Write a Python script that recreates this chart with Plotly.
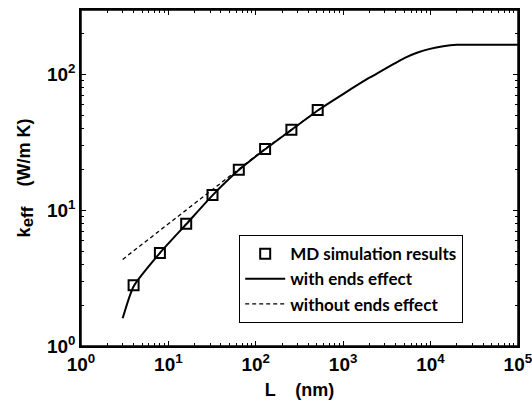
import plotly.graph_objects as go

# MD simulation results
md_L = [4, 8, 16, 32, 64, 128, 256, 512]
md_k = [2.8, 4.85, 7.95, 13.0, 19.9, 28.3, 39.3, 55.0]

# model with ends effect
with_L = [3, 4, 8, 16, 32, 64, 128, 256, 512, 1000, 2000, 2630, 3800, 5090, 7000, 9840, 14000, 20000, 30000, 100000]
with_k = [1.6, 2.75, 4.85, 7.9, 12.9, 19.8, 28.2, 39.2, 54.5, 72, 95, 105, 120, 133, 145, 155, 162, 166, 166.5, 166.5]

# model without ends effect
wo_L = [3, 8, 16, 30, 64, 128, 256, 512]
wo_k = [4.35, 7.1, 10.0, 13.8, 20.3, 28.5, 39.3, 54.6]

x_ticks = [1, 10, 100, 1000, 10000, 100000]
x_ticktext = ["<b>10<sup>0</sup></b>", "<b>10<sup>1</sup></b>", "<b>10<sup>2</sup></b>",
              "<b>10<sup>3</sup></b>", "<b>10<sup>4</sup></b>", "<b>10<sup>5</sup></b>"]
y_ticks = [1, 10, 100]
y_ticktext = ["<b>10<sup>0</sup></b>", "<b>10<sup>1</sup></b>", "<b>10<sup>2</sup></b>"]

x_minor = [m * 10 ** d for d in range(0, 5) for m in range(2, 10)]
y_minor = [m * 10 ** d for d in range(0, 3) for m in range(2, 10) if m * 10 ** d <= 300]

fig = go.Figure()
fig.add_trace(go.Scatter(x=md_L, y=md_k, mode="markers", name="<b>MD simulation results</b>",
                         marker=dict(symbol="square-open", size=10, color="black", line=dict(width=2, color="black"))))
fig.add_trace(go.Scatter(x=with_L, y=with_k, mode="lines", name="<b>with ends effect</b>",
                         line=dict(color="black", width=2, shape="spline", smoothing=0.6)))
fig.add_trace(go.Scatter(x=wo_L, y=wo_k, mode="lines", name="<b>without ends effect</b>",
                         line=dict(color="black", width=1.3, dash="4px,3px")))

tick_font = dict(family="Liberation Sans, Arial", size=19, color="black")
title_font = dict(family="Liberation Sans, Arial", size=18, color="black")

axis_common = dict(
    type="log", showgrid=False, zeroline=False, showline=True, linecolor="black", linewidth=1.5,
    mirror="allticks", ticks="inside", ticklen=5, tickcolor="black", tickwidth=1,
    tickfont=tick_font, automargin=False, ticklabeloverflow="allow",
)

fig.update_xaxes(range=[0, 5.002], tickvals=x_ticks, ticktext=x_ticktext,
                 minor=dict(ticks="inside", ticklen=3, tickcolor="black", tickvals=x_minor, showgrid=False),
                 title=dict(text="<b>L    (nm)</b>", font=title_font, standoff=10),
                 **axis_common)
fig.update_yaxes(range=[0, 2.477], tickvals=y_ticks, ticktext=y_ticktext,
                 minor=dict(ticks="inside", ticklen=3, tickcolor="black", tickvals=y_minor, showgrid=False),
                 title=dict(text="<b>k<sub><span style='font-size:17px'>eff</span></sub>    (W/m K)</b>",
                            font=title_font, standoff=12),
                 **axis_common)

fig.add_shape(type="rect", xref="paper", yref="paper", x0=0, y0=0, x1=1, y1=1,
              line=dict(color="black", width=1.5), fillcolor="rgba(0,0,0,0)", layer="above")

fig.update_layout(
    width=532, height=403,
    margin=dict(l=81, r=14, t=10, b=57),
    paper_bgcolor="white", plot_bgcolor="white",
    showlegend=True,
    legend=dict(x=0.362, y=0.33, xanchor="left", yanchor="top",
                bordercolor="black", borderwidth=1, bgcolor="white",
                font=dict(family="Lato, Open Sans", size=17, color="black"),
                tracegroupgap=0, itemwidth=40),
)

fig.write_html("out.html", config={"displayModeBar": False},
               post_script="document.body.style.margin='0';document.body.style.overflow='hidden';")
